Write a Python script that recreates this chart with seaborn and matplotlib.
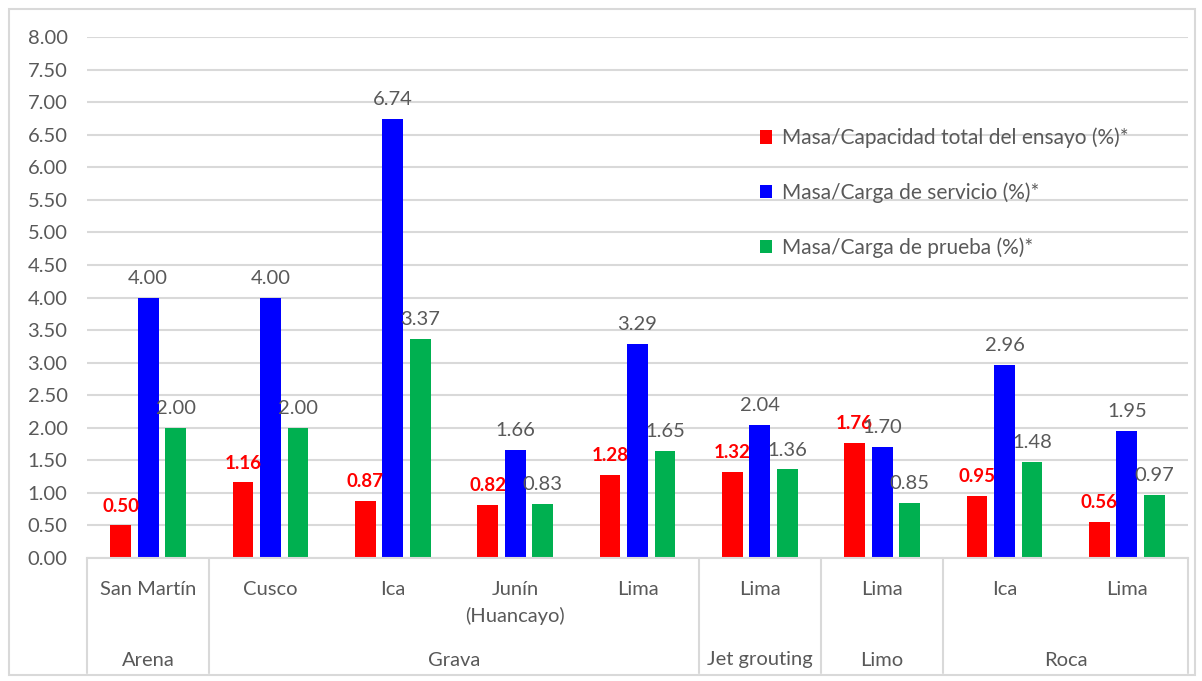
import matplotlib
matplotlib.use("Agg")
import matplotlib.pyplot as plt
import matplotlib.transforms as mtransforms
from matplotlib.patches import Patch, Rectangle
import seaborn as sns
import pandas as pd

# ---- data ----
sites = ["San Martín", "Cusco", "Ica", "Junín\n(Huancayo)", "Lima", "Lima", "Lima", "Ica", "Lima"]
soil_groups = ["Arena", "Grava", "Jet grouting", "Limo", "Roca"]
group_sizes = [1, 4, 1, 1, 2]
series_names = [
    "Masa/Capacidad total del ensayo (%)*",
    "Masa/Carga de servicio (%)*",
    "Masa/Carga de prueba (%)*",
]
capacidad_total = [0.50, 1.16, 0.87, 0.82, 1.28, 1.32, 1.76, 0.95, 0.56]
carga_servicio = [4.00, 4.00, 6.74, 1.66, 3.29, 2.04, 1.70, 2.96, 1.95]
carga_prueba = [2.00, 2.00, 3.37, 0.83, 1.65, 1.36, 0.85, 1.48, 0.97]
y_ticks = [0.0, 0.5, 1.0, 1.5, 2.0, 2.5, 3.0, 3.5, 4.0, 4.5, 5.0, 5.5, 6.0, 6.5, 7.0, 7.5, 8.0]

colors = ["#FF0000", "#0000FF", "#00B050"]
text_gray = "#595959"
grid_gray = "#D9D9D9"
fs = 14.5

# ---- long-form table ----
rows = []
for name, vals in zip(series_names, [capacidad_total, carga_servicio, carga_prueba]):
    for i, v in enumerate(vals):
        rows.append({"pos": i, "serie": name, "valor": v})
df = pd.DataFrame(rows)

sns.set_theme(style="white")
plt.rcParams["font.family"] = ["Lato", "DejaVu Sans"]

fig = plt.figure(figsize=(12.02, 6.81), dpi=100)
ax = fig.add_axes([87 / 1202, 1 - 558 / 681, (1188 - 87) / 1202, (558 - 37) / 681])

sns.barplot(
    data=df, x="pos", y="valor", hue="serie", hue_order=series_names,
    palette=colors, width=0.675, gap=0.24, saturation=1, ax=ax,
    legend=False, errorbar=None, order=list(range(len(sites))), linewidth=0,
)

ax.set_ylim(0, 8)
ax.set_xlim(-0.5, len(sites) - 0.5)
ax.set_yticks(y_ticks)
ax.set_yticklabels([f"{t:.2f}" for t in y_ticks], color=text_gray, fontsize=fs)
ax.yaxis.grid(True, color=grid_gray, linewidth=1.5)
ax.set_axisbelow(True)
ax.tick_params(axis="y", length=0, pad=14)
ax.tick_params(axis="x", length=0, pad=16.5)
for s in ["left", "right", "top"]:
    ax.spines[s].set_visible(False)
ax.spines["bottom"].set_color(grid_gray)
ax.spines["bottom"].set_linewidth(1.5)
ax.set_xlabel("")
ax.set_ylabel("")

ax.set_xticks(range(len(sites)))
ax.set_xticklabels(sites, color=text_gray, fontsize=fs, linespacing=1.6, va="top")

# ---- value labels ----
for cont, name in zip(ax.containers, series_names):
    is_total = name == series_names[0]
    for bar in cont:
        h = bar.get_height()
        ax.annotate(
            f"{h:.2f}", (bar.get_x() + bar.get_width() / 2, h),
            xytext=(0, 10), textcoords="offset points",
            ha="center", va="baseline", fontsize=13.5 if is_total else fs,
            color="#FF0000" if is_total else text_gray,
            fontweight="bold" if is_total else "normal",
        )

# ---- grouped category axis ----
trans = mtransforms.blended_transform_factory(ax.transData, ax.transAxes)
line_bottom = -(673 - 558) / (558 - 37)
bounds = [-0.5]
for n in group_sizes:
    bounds.append(bounds[-1] + n)
for b in bounds:
    ax.plot([b, b], [0, line_bottom], transform=trans, color=grid_gray,
            linewidth=1.5, clip_on=False)
group_y = -(660 - 558) / (558 - 37)
for g, a, b in zip(soil_groups, bounds[:-1], bounds[1:]):
    ax.text((a + b) / 2, group_y, g, transform=trans, ha="center", va="center",
            color=text_gray, fontsize=fs)

# ---- legend ----
handles = [Patch(facecolor=c, edgecolor="none") for c in colors]
ax.legend(
    handles, series_names, loc="upper left", bbox_to_anchor=(0.611, 0.826),
    frameon=False, fontsize=fs + 0.5, handlelength=0.6, handleheight=0.6,
    handletextpad=0.45, labelspacing=1.65, borderpad=0, borderaxespad=0,
    labelcolor=text_gray,
)

# ---- chart border ----
fig.patches.append(Rectangle((9 / 1202, 1 - 675 / 681), (1195 - 9) / 1202, (675 - 9) / 681,
                             transform=fig.transFigure, fill=False,
                             edgecolor=grid_gray, linewidth=1.5))

fig.savefig("out.png", dpi=100, facecolor="white")
